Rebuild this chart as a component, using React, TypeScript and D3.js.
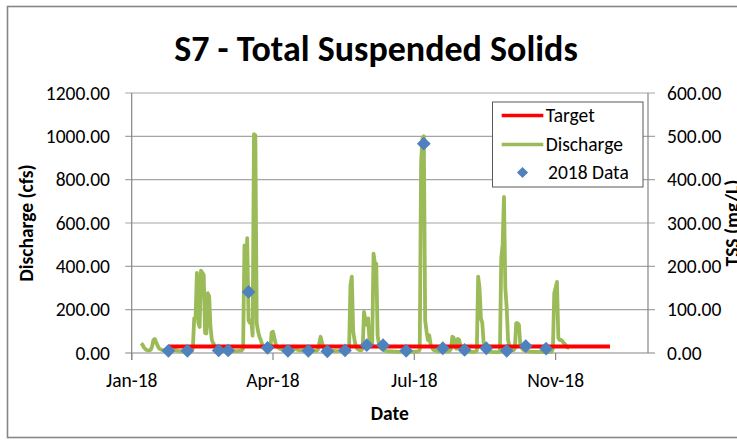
import React from "react";
import * as d3 from "d3";

// ---------- data ----------
const dischargeStart = "2018-01-08";
// daily discharge (cfs) from dischargeStart
const dischargeCfs = [
  45, 38, 25, 18, 14, 12, 12, 15, 30, 60,
  65, 50, 35, 22, 18, 15, 13, 12, 11, 10,
  10, 10, 9, 9, 12, 15, 12, 10, 9, 9,
  8, 8, 10, 12, 10, 9, 9, 12, 20, 160,
  165, 370, 140, 120, 380, 370, 360, 92, 90, 276,
  262, 120, 60, 45, 35, 25, 20, 17, 15, 14,
  13, 12, 12, 11, 11, 10, 10, 10, 9, 9,
  9, 9, 10, 10, 12, 20, 497, 300, 530, 150,
  140, 150, 80, 1010, 1005, 138, 100, 75, 60, 40,
  30, 25, 22, 20, 18, 16, 95, 98, 70, 40,
  30, 25, 20, 18, 16, 15, 14, 14, 13, 13,
  12, 12, 14, 20, 18, 15, 13, 12, 12, 11,
  11, 10, 10, 10, 12, 14, 12, 11, 10, 10,
  15, 40, 75, 50, 25, 18, 15, 13, 12, 11,
  10, 10, 10, 9, 9, 9, 10, 12, 11, 10,
  10, 9, 9, 20, 310, 352, 100, 60, 30, 20,
  15, 13, 12, 20, 190, 150, 130, 160, 60, 30,
  40, 459, 412, 412, 80, 40, 25, 18, 15, 12,
  10, 9, 8, 8, 7, 7, 6, 6, 6, 5,
  5, 5, 5, 5, 5, 5, 5, 5, 5, 5,
  5, 5, 6, 6, 8, 15, 880, 990, 1000, 150,
  100, 60, 82, 40, 25, 15, 12, 10, 9, 8,
  8, 8, 7, 7, 7, 7, 8, 10, 20, 75,
  70, 30, 20, 65, 60, 30, 15, 12, 10, 8,
  7, 6, 6, 5, 5, 5, 6, 10, 352, 300,
  160, 140, 50, 20, 10, 8, 6, 5, 5, 4,
  4, 4, 4, 4, 5, 437, 500, 720, 300, 207,
  60, 30, 20, 15, 12, 20, 138, 138, 130, 40,
  25, 15, 12, 10, 8, 7, 6, 6, 5, 5,
  5, 5, 5, 5, 5, 5, 5, 5, 5, 5,
  5, 5, 6, 20, 276, 300, 328, 70, 60, 60,
  55, 45, 40, 30, 25, 22,
];

const tssDates = [
  "2018-01-28", "2018-02-11", "2018-03-06", "2018-03-13", "2018-03-28",
  "2018-04-11", "2018-04-26", "2018-05-11", "2018-05-25", "2018-06-07",
  "2018-06-23", "2018-07-05", "2018-07-22", "2018-08-04", "2018-08-18",
  "2018-09-03", "2018-09-19", "2018-10-04", "2018-10-18", "2018-11-02",
];
const tssValues = [5, 5, 6, 6, 141, 12, 5, 5, 4, 6, 18, 18, 5, 483, 11, 7, 11, 5, 16, 10];

const targetDates = ["2018-01-28", "2018-12-19"];
const targetValues = [15, 15];

const leftTicks = [0, 200, 400, 600, 800, 1000, 1200];
const rightTicks = [0, 100, 200, 300, 400, 500, 600];
const xTickDates = ["2018-01-01", "2018-04-15", "2018-07-28", "2018-11-09"];
const xDomain = ["2018-01-01", "2019-01-16"];
const legendLabels = ["Target", "Discharge", "2018 Data"];

// ---------- styling ----------
const FONT = "Calibri, Carlito, Lato, 'Open Sans', sans-serif";
const GREEN = "#9BBB59";
const RED = "#FF0000";
const BLUE = "#4F81BD";
const GRID = "#A5A5A5";
const AXIS = "#868686";

const W = 737;
const H = 441;
const M = { left: 131.7, right: 648, top: 93, bottom: 353 };

const parse = d3.utcParse("%Y-%m-%d");
const fmt = d3.utcFormat("%b-%y");

export default function App() {
  const x = d3
    .scaleUtc()
    .domain(xDomain.map((s) => parse(s) as Date))
    .range([M.left, M.right]);
  const yL = d3.scaleLinear().domain([0, 1200]).range([M.bottom, M.top]);
  const yR = d3.scaleLinear().domain([0, 600]).range([M.bottom, M.top]);

  const start = parse(dischargeStart) as Date;
  const discharge = dischargeCfs.map((v, i) => ({ d: d3.utcDay.offset(start, i), v }));
  const tss = tssDates.map((s, i) => ({ d: parse(s) as Date, v: tssValues[i] }));
  const target = targetDates.map((s, i) => ({ d: parse(s) as Date, v: targetValues[i] }));

  const lineL = d3
    .line<{ d: Date; v: number }>()
    .x((p) => x(p.d))
    .y((p) => yL(p.v));
  const lineR = d3
    .line<{ d: Date; v: number }>()
    .x((p) => x(p.d))
    .y((p) => yR(p.v));

  const diamond = d3.symbol(d3.symbolSquare, 95)() as string;
  const diamondSmall = d3.symbol(d3.symbolSquare, 62)() as string;

  const xTicks = xTickDates.map((s) => parse(s) as Date);
  const plotMidY = (M.top + M.bottom) / 2;
  const plotMidX = (M.left + M.right) / 2;

  const legend = { x: 492.5, y: 102, w: 150.5, h: 85 };
  const rowY = [115.5, 144.5, 172.5];

  return (
    <svg
      width={W}
      height={H}
      style={{ position: "fixed", left: 0, top: 0, background: "#fff" }}
      fontFamily={FONT}
    >
      <rect x={0} y={0} width={W} height={H} fill="#fff" />
      {/* chart border */}
      <rect x={7.5} y={6.5} width={820} height={431} fill="none" stroke={AXIS} strokeWidth={1.6} />

      {/* title */}
      <text x={376} y={61} textAnchor="middle" fontSize={36} fontWeight="bold" fill="#000">
        S7 - Total Suspended Solids
      </text>

      {/* gridlines + left ticks */}
      {leftTicks.map((t) => (
        <line
          key={"g" + t}
          x1={M.left - 6.5}
          x2={M.right + 7}
          y1={yL(t)}
          y2={yL(t)}
          stroke={t === 0 ? AXIS : GRID}
          strokeWidth={1.2}
        />
      ))}
      {/* left axis */}
      <line x1={M.left} x2={M.left} y1={M.top} y2={M.bottom + 7} stroke={AXIS} strokeWidth={1.2} />
      {/* right axis */}
      <line x1={M.right} x2={M.right} y1={M.top} y2={M.bottom} stroke={AXIS} strokeWidth={1.2} />
      {/* x ticks */}
      {xTicks.map((t, i) => (
        <line key={"xt" + i} x1={x(t)} x2={x(t)} y1={M.bottom} y2={M.bottom + 7} stroke={AXIS} strokeWidth={1.2} />
      ))}

      {/* left tick labels */}
      {leftTicks.map((t) => (
        <text key={"ll" + t} x={110} y={yL(t)} dy="0.35em" textAnchor="end" fontSize={19.5} fill="#000">
          {t.toFixed(2)}
        </text>
      ))}
      {/* right tick labels */}
      {rightTicks.map((t) => (
        <text key={"rl" + t} x={667} y={yR(t)} dy="0.35em" textAnchor="start" fontSize={19.5} fill="#000">
          {t.toFixed(2)}
        </text>
      ))}
      {/* x tick labels */}
      {xTicks.map((t, i) => (
        <text key={"xl" + i} x={x(t)} y={387} textAnchor="middle" fontSize={19.5} fill="#000">
          {fmt(t)}
        </text>
      ))}

      {/* axis titles */}
      <text x={plotMidX} y={420} textAnchor="middle" fontSize={19.5} fontWeight="bold" fill="#000">
        Date
      </text>
      <text
        transform={`translate(33,${plotMidY}) rotate(-90)`}
        textAnchor="middle"
        fontSize={19.5}
        fontWeight="bold"
        fill="#000"
      >
        Discharge (cfs)
      </text>
      <text
        transform={`translate(739,${plotMidY}) rotate(-90)`}
        textAnchor="middle"
        fontSize={19.5}
        fontWeight="bold"
        fill="#000"
      >
        TSS (mg/L)
      </text>

      {/* series */}
      <path d={lineL(discharge) as string} fill="none" stroke={GREEN} strokeWidth={3.8} strokeLinejoin="round" />
      <path d={lineR(target) as string} fill="none" stroke={RED} strokeWidth={4} />
      {tss.map((p, i) => (
        <path
          key={"tss" + i}
          d={diamond}
          transform={`translate(${x(p.d)},${yR(p.v)}) rotate(45)`}
          fill={BLUE}
        />
      ))}

      {/* legend */}
      <rect x={legend.x} y={legend.y} width={legend.w} height={legend.h} fill="#fff" stroke="#595959" strokeWidth={1} />
      <line x1={501.7} x2={543.3} y1={rowY[0]} y2={rowY[0]} stroke={RED} strokeWidth={3.5} />
      <line x1={501.7} x2={543.3} y1={rowY[1]} y2={rowY[1]} stroke={GREEN} strokeWidth={3.5} />
      <path d={diamondSmall} transform={`translate(522.5,${rowY[2]}) rotate(45)`} fill={BLUE} />
      {legendLabels.map((l, i) => (
        <text key={l} x={i === 2 ? 548 : 545.7} y={rowY[i]} dy="0.35em" fontSize={19.5} fill="#000">
          {l}
        </text>
      ))}
    </svg>
  );
}
